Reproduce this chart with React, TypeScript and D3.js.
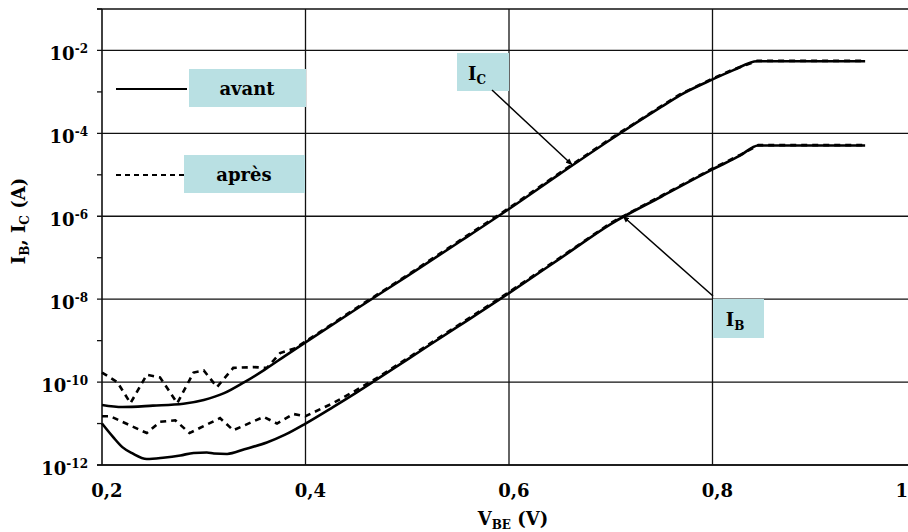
import React from "react";
import * as d3 from "d3";

// ---- data ----
const vIcAvant = [0.2, 0.22, 0.25, 0.28, 0.3, 0.32, 0.34, 0.36, 0.38, 0.4, 0.45, 0.5, 0.55, 0.6, 0.65, 0.7, 0.75, 0.768, 0.8, 0.82, 0.844, 0.95];
const icAvant = [2.8e-11, 2.5e-11, 2.7e-11, 3.0e-11, 3.7e-11, 5.4e-11, 1.0e-10, 2.0e-10, 4.3e-10, 9.1e-10, 5.8e-9, 3.6e-8, 2.3e-7, 1.5e-6, 1.05e-5, 7.1e-5, 4.4e-4, 8.3e-4, 2.0e-3, 3.3e-3, 5.5e-3, 5.5e-3];

const vIbAvant = [0.2, 0.211, 0.22, 0.23, 0.244, 0.26, 0.277, 0.29, 0.303, 0.31, 0.323, 0.34, 0.362, 0.38, 0.4, 0.427, 0.45, 0.466, 0.5, 0.55, 0.6, 0.65, 0.7, 0.75, 0.8, 0.827, 0.845, 0.95];
const ibAvant = [1.0e-11, 4.7e-12, 2.7e-12, 1.9e-12, 1.4e-12, 1.5e-12, 1.7e-12, 1.95e-12, 2.0e-12, 1.9e-12, 1.85e-12, 2.4e-12, 3.5e-12, 5.4e-12, 1.0e-11, 2.5e-11, 5.6e-11, 1.0e-10, 3.5e-10, 2.2e-9, 1.4e-8, 9.5e-8, 6.5e-7, 3.0e-6, 1.35e-5, 2.9e-5, 5.1e-5, 5.1e-5];

const vIcApres = [0.2, 0.215, 0.228, 0.244, 0.257, 0.274, 0.29, 0.3, 0.313, 0.329, 0.349, 0.362, 0.375, 0.39, 0.4, 0.45, 0.5, 0.55, 0.6, 0.65, 0.7, 0.75, 0.768, 0.8, 0.82, 0.844, 0.95];
const icApres = [1.7e-10, 1.0e-10, 3.1e-11, 1.5e-10, 1.3e-10, 3.1e-11, 1.7e-10, 1.9e-10, 7.6e-11, 2.2e-10, 2.3e-10, 2.2e-10, 5.0e-10, 6.6e-10, 9.6e-10, 6.1e-9, 3.8e-8, 2.45e-7, 1.58e-6, 1.12e-5, 7.5e-5, 4.6e-4, 8.7e-4, 2.1e-3, 3.45e-3, 5.6e-3, 5.6e-3];

const vIbApres = [0.2, 0.208, 0.244, 0.257, 0.272, 0.286, 0.316, 0.329, 0.359, 0.372, 0.388, 0.4, 0.427, 0.447, 0.47, 0.5, 0.55, 0.6, 0.65, 0.7, 0.75, 0.8, 0.827, 0.845, 0.95];
const ibApres = [1.5e-11, 1.5e-11, 5.9e-12, 1.1e-11, 1.2e-11, 5.9e-12, 1.35e-11, 6.9e-12, 1.45e-11, 1.0e-11, 1.7e-11, 1.5e-11, 3.1e-11, 5.8e-11, 1.25e-10, 3.7e-10, 2.35e-9, 1.48e-8, 1.0e-7, 6.9e-7, 3.15e-6, 1.42e-5, 3.0e-5, 5.2e-5, 5.2e-5];

const xTicks = [0.2, 0.4, 0.6, 0.8, 1.0];
const xTickLabels = ["0,2", "0,4", "0,6", "0,8", "1"];
const yMajorExp = [-12, -10, -8, -6, -4, -2];
const yMinorExp = [-11, -9, -7, -5, -3, -1];

const legendLabels = ["avant", "après"];

const FONT = "'DejaVu Serif', serif";
const BOX = "#b9e0e3";

export default function App() {
  const W = 908, H = 532;
  const x = d3.scaleLinear().domain([0.2, 1.0]).range([102, 916]);
  const y = d3.scaleLog().domain([1e-12, 1e-1]).range([465, 9]);

  const smooth = d3.line<[number, number]>().x(d => x(d[0])).y(d => y(d[1])).curve(d3.curveMonotoneX);
  const sharp = d3.line<[number, number]>().x(d => x(d[0])).y(d => y(d[1])).curve(d3.curveLinear);
  const zip = (a: number[], b: number[]) => a.map((v, i) => [v, b[i]] as [number, number]);

  const right = W;

  // annotation anchors (data space)
  const icTip: [number, number] = [0.662, 1.75e-5];
  const ibTip: [number, number] = [0.712, 1.0e-6];

  return (
    <svg width={W} height={H} style={{ position: "absolute", left: 0, top: 0, background: "#fff" }} fontFamily={FONT}>
      <defs>
        <marker id="arr" viewBox="0 0 10 10" refX="9" refY="5" markerWidth="7" markerHeight="7" orient="auto-start-reverse" markerUnits="userSpaceOnUse">
          <path d="M0,1 L10,5 L0,9 z" fill="#000" />
        </marker>
      </defs>
      {/* grid */}
      {yMajorExp.map(e => (
        <line key={"g" + e} x1={97} x2={right} y1={y(10 ** e)} y2={y(10 ** e)} stroke="#111" strokeWidth={1.3} />
      ))}
      <line x1={97} x2={right} y1={y(1e-1)} y2={y(1e-1)} stroke="#111" strokeWidth={1.3} />
      {yMinorExp.map(e => (
        <line key={"m" + e} x1={97} x2={102} y1={y(10 ** e)} y2={y(10 ** e)} stroke="#111" strokeWidth={1.3} />
      ))}
      {xTicks.slice(1).map(v => (
        <line key={"v" + v} x1={x(v)} x2={x(v)} y1={y(1e-1)} y2={y(1e-12)} stroke="#111" strokeWidth={1.3} />
      ))}
      <line x1={x(0.2)} x2={x(0.2)} y1={y(1e-1)} y2={y(1e-12)} stroke="#111" strokeWidth={1.6} />
      <line x1={97} x2={right} y1={y(1e-12)} y2={y(1e-12)} stroke="#111" strokeWidth={1.6} />

      {/* y tick labels */}
      {yMajorExp.map(e => (
        <text key={"t" + e} x={88} y={y(10 ** e) + 10} textAnchor="end" fontSize={18} fontWeight="bold">
          10<tspan fontSize={12} dy={-7}>{String(e)}</tspan>
        </text>
      ))}
      {/* x tick labels */}
      {xTicks.map((v, i) => (
        v < 1 ? (
          <text key={"xt" + v} x={x(v) + 5} y={497} textAnchor="middle" fontSize={18} fontWeight="bold">{xTickLabels[i]}</text>
        ) : (
          <text key={"xt" + v} x={W} y={497} textAnchor="end" fontSize={18} fontWeight="bold">{xTickLabels[i]}</text>
        )
      ))}
      {/* axis titles */}
      <text x={513} y={525} textAnchor="middle" fontSize={18} fontWeight="bold">
        V<tspan fontSize={12} dy={4}>BE</tspan><tspan dy={-4}> (V)</tspan>
      </text>
      <text transform="translate(25,221) rotate(-90)" textAnchor="middle" fontSize={18} fontWeight="bold">
        I<tspan fontSize={12} dy={4}>B</tspan><tspan dy={-4}>, I</tspan><tspan fontSize={12} dy={4}>C</tspan><tspan dy={-4}> (A)</tspan>
      </text>

      {/* curves */}
      <path d={smooth(zip(vIcAvant, icAvant)) || ""} fill="none" stroke="#000" strokeWidth={2.6} />
      <path d={smooth(zip(vIbAvant, ibAvant)) || ""} fill="none" stroke="#000" strokeWidth={2.6} />
      <path d={sharp(zip(vIcApres, icApres)) || ""} fill="none" stroke="#000" strokeWidth={2.6} strokeDasharray="6,5" />
      <path d={sharp(zip(vIbApres, ibApres)) || ""} fill="none" stroke="#000" strokeWidth={2.6} strokeDasharray="6,5" />

      {/* legend */}
      <line x1={116} x2={187} y1={89} y2={89} stroke="#000" strokeWidth={2} />
      <rect x={189} y={69} width={117} height={38} fill={BOX} />
      <text x={247} y={95} textAnchor="middle" fontSize={18} fontWeight="bold">{legendLabels[0]}</text>
      <line x1={116} x2={184} y1={175} y2={175} stroke="#000" strokeWidth={2} strokeDasharray="5,4" />
      <rect x={184} y={155} width={121} height={38} fill={BOX} />
      <text x={244} y={181} textAnchor="middle" fontSize={18} fontWeight="bold">{legendLabels[1]}</text>

      {/* annotations */}
      <rect x={457} y={53} width={52} height={38} fill={BOX} />
      <text x={477} y={80} textAnchor="middle" fontSize={18} fontWeight="bold">
        I<tspan fontSize={12} dy={4}>C</tspan>
      </text>
      <line x1={492} y1={90} x2={x(icTip[0])} y2={y(icTip[1])} stroke="#000" strokeWidth={1.5} markerEnd="url(#arr)" />

      <rect x={713} y={299} width={51} height={39} fill={BOX} />
      <text x={735} y={326} textAnchor="middle" fontSize={18} fontWeight="bold">
        I<tspan fontSize={12} dy={4}>B</tspan>
      </text>
      <line x1={713} y1={296} x2={x(ibTip[0])} y2={y(ibTip[1])} stroke="#000" strokeWidth={1.5} markerEnd="url(#arr)" />
    </svg>
  );
}
